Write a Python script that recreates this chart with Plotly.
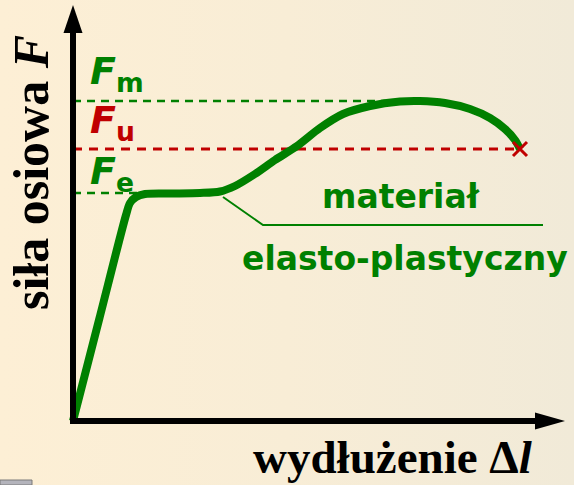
import plotly.graph_objects as go

# ---- data (elongation in arbitrary units, force in arbitrary units) ----
curve_dl = [0.0, 0.53, 1.06, 1.14, 1.26, 1.44, 1.94, 2.54, 2.94, 3.24, 3.64, 4.04,
            4.48, 4.94, 5.40, 5.94, 6.54, 6.94, 7.44, 7.94, 8.34, 8.64, 8.84, 8.94]
curve_F = [0.0, 10.3, 20.6, 21.8, 22.4, 22.7, 22.75, 22.8, 22.95, 23.5, 24.7, 26.1,
           27.5, 29.3, 30.7, 31.5, 31.95, 32.0, 31.8, 31.2, 30.3, 29.2, 28.1, 27.2]

F_m = 32.0      # ultimate force
F_u = 27.2      # force at rupture
F_e = 22.8      # yield force
dl_Fm_end = 6.24   # extent of Fm reference line
dl_Fe_end = 1.44   # extent of Fe reference line
dl_break = 8.94    # elongation at rupture

leader_x = [3.0, 3.8, 9.4]
leader_y = [22.4, 19.6, 19.6]

label_texts = ["<b><i>F</i></b><sub><b>m</b></sub>",
               "<b><i>F</i></b><sub><b>u</b></sub>",
               "<b><i>F</i></b><sub><b>e</b></sub>"]
label_y = [34.8, 29.9, 24.8]

X_MIN, X_MAX = -1.46, 10.02
Y_MIN, Y_MAX = -6.4, 42.1
X_AXIS_END = 9.84
Y_AXIS_END = 41.6

GREEN = "#008000"
RED = "#C00000"

fig = go.Figure()

# background gradient
fig.add_trace(go.Scatter(
    x=[X_MIN, X_MAX, X_MAX, X_MIN, X_MIN], y=[Y_MIN, Y_MIN, Y_MAX, Y_MAX, Y_MIN],
    fill="toself", mode="none", hoverinfo="skip", showlegend=False,
    fillgradient=dict(type="horizontal",
                      colorscale=[[0, "#FDEFD5"], [0.5, "#F8EDD6"], [1, "#F1EAD8"]])))

# reference dashed lines
fig.add_trace(go.Scatter(x=[0, dl_Fm_end], y=[F_m, F_m], mode="lines",
                         line=dict(color=GREEN, width=2.5, dash="8px,6px"), showlegend=False))
fig.add_trace(go.Scatter(x=[0, dl_break], y=[F_u, F_u], mode="lines",
                         line=dict(color=RED, width=3, dash="9px,7px"), showlegend=False))
fig.add_trace(go.Scatter(x=[0, dl_Fe_end], y=[F_e, F_e], mode="lines",
                         line=dict(color=GREEN, width=2.5, dash="8px,6px"), showlegend=False))

# leader line
fig.add_trace(go.Scatter(x=leader_x, y=leader_y, mode="lines",
                         line=dict(color=GREEN, width=2), showlegend=False))

# main curve
fig.add_trace(go.Scatter(x=curve_dl, y=curve_F, mode="lines",
                         line=dict(color=GREEN, width=8, shape="spline", smoothing=0.8),
                         showlegend=False))

# rupture marker
fig.add_trace(go.Scatter(x=[dl_break], y=[F_u], mode="markers",
                         marker=dict(symbol="x-thin", size=14,
                                     line=dict(color=RED, width=3)),
                         showlegend=False))

shapes = [
    # axes
    dict(type="line", x0=-0.06, y0=0, x1=X_AXIS_END - 0.5, y1=0,
         line=dict(color="black", width=6), layer="above"),
    dict(type="line", x0=0, y0=0, x1=0, y1=Y_AXIS_END - 2.5,
         line=dict(color="black", width=6), layer="above"),
    # arrow heads (pixel sized)
    dict(type="path", xsizemode="pixel", ysizemode="pixel",
         xanchor=X_AXIS_END, yanchor=0,
         path="M0,0 L-30,-8.5 L-30,8.5 Z", fillcolor="black", line=dict(width=0)),
    dict(type="path", xsizemode="pixel", ysizemode="pixel",
         xanchor=0, yanchor=Y_AXIS_END,
         path="M0,0 L-9.5,-28 L9.5,-28 Z", fillcolor="black", line=dict(width=0)),
    # small grey widget in bottom-left corner
    dict(type="rect", xref="paper", yref="paper", x0=0, x1=32 / 574, y0=0, y1=5 / 485,
         fillcolor="#B4B4BC", line=dict(color="#7A7A7A", width=1)),
]

sans = "DejaVu Sans"
serif = "Liberation Serif"
label_colors = [GREEN, RED, GREEN]

annotations = [
    dict(x=0.30, y=ly, text=t, font=dict(family=sans, size=38, color=c),
         xanchor="left", yanchor="middle", showarrow=False)
    for t, ly, c in zip(label_texts, label_y, label_colors)
] + [
    dict(x=6.56, y=22.44, text="<b>materiał</b>", font=dict(family=sans, size=33, color=GREEN),
         xanchor="center", yanchor="middle", showarrow=False),
    dict(x=6.64, y=16.24, text="<b>elasto-plastyczny</b>", font=dict(family=sans, size=33, color=GREEN),
         xanchor="center", yanchor="middle", showarrow=False),
    dict(x=6.38, y=-3.6, text="<b>wydłużenie Δ<i>l</i></b>",
         font=dict(family=serif, size=47, color="black"),
         xanchor="center", yanchor="middle", showarrow=False),
    dict(x=-0.84, y=24.8, text="<b>siła osiowa <i>F</i></b>", textangle=-90,
         font=dict(family=serif, size=50, color="black"),
         xanchor="center", yanchor="middle", showarrow=False),
]

fig.update_layout(
    width=574, height=485, autosize=False,
    margin=dict(l=0, r=0, t=0, b=0, pad=0),
    paper_bgcolor="#F8EDD6", plot_bgcolor="rgba(0,0,0,0)",
    xaxis=dict(range=[X_MIN, X_MAX], visible=False, fixedrange=True),
    yaxis=dict(range=[Y_MIN, Y_MAX], visible=False, fixedrange=True),
    shapes=shapes, annotations=annotations, showlegend=False,
)

fig.write_html("out.html", config={"displayModeBar": False},
               post_script="document.body.style.margin='0';document.body.style.overflow='hidden';")
